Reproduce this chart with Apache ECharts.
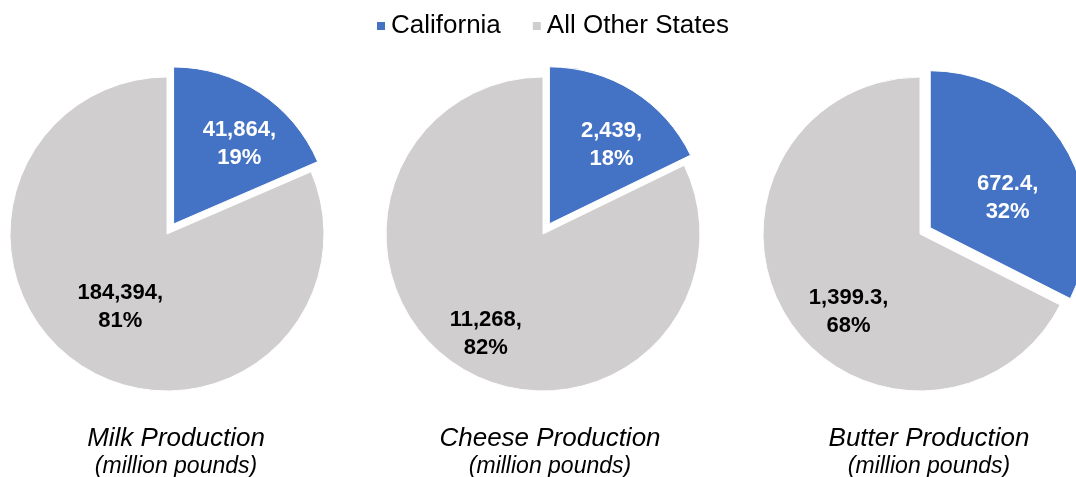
<!DOCTYPE html>
<html>
<head>
<meta charset="utf-8">
<script src="https://cdn.jsdelivr.net/npm/echarts@6/dist/echarts.min.js"></script>
<style>
html,body{margin:0;padding:0;background:#fff;}
#chart{width:1076px;height:477px;}
</style>
</head>
<body>
<div id="chart"></div>
<script>
// ---- data ----
const categories = ['California', 'All Other States'];
const charts = ['Milk Production', 'Cheese Production', 'Butter Production'];
const subtitle = '(million pounds)';
const milkValues = [41864, 184394];
const cheeseValues = [2439, 11268];
const butterValues = [672.4, 1399.3];
const decimals = [0, 0, 1];

// ---- layout / style ----
const colors = ['#4472C4', '#D0CECE'];
const centersX = [167, 543, 920];
const titleX = [171, 545, 924];
const centerY = 234;
const radius = 157;
// small label nudges relative to ECharts 'inside' placement [blue, gray]
const labelNudges = [
  [[21, -12], [-2, 5]],
  [[19, -10], [-14, 31]],
  [[8, 13], [-2, 35]]
];
const labelColors = ['#ffffff', '#000000'];

const allValues = [milkValues, cheeseValues, butterValues];

const chart = echarts.init(document.getElementById('chart'));

const series = allValues.map((vals, i) => ({
  type: 'pie',
  center: [centersX[i], centerY],
  radius: radius,
  startAngle: 90,
  clockwise: true,
  selectedMode: true,
  selectedOffset: 12,
  animation: false,
  percentPrecision: 0,
  emphasis: { disabled: true },
  labelLine: { show: false },
  labelLayout: (p) => ({
    dx: labelNudges[i][p.dataIndex][0],
    dy: labelNudges[i][p.dataIndex][1]
  }),
  itemStyle: { borderColor: '#ffffff', borderWidth: 1 },
  data: vals.map((v, j) => ({
    name: categories[j],
    value: v,
    selected: j === 0,
    itemStyle: { color: colors[j] },
    label: {
      show: true,
      position: 'inside',
      color: labelColors[j],
      fontFamily: 'Liberation Sans, Arial, sans-serif',
      fontWeight: 'bold',
      fontSize: 22,
      lineHeight: 28,
      formatter: (p) => p.value.toLocaleString('en-US', {
        minimumFractionDigits: decimals[i], maximumFractionDigits: decimals[i]
      }) + ',\n' + Math.round(p.percent) + '%'
    }
  }))
}));

const titles = charts.map((t, i) => ({
  text: t,
  subtext: subtitle,
  left: titleX[i],
  top: 421,
  textAlign: 'center',
  itemGap: 3,
  textStyle: {
    fontFamily: 'Liberation Sans, Arial, sans-serif',
    fontStyle: 'italic',
    fontWeight: 'normal',
    fontSize: 26,
    color: '#000'
  },
  subtextStyle: {
    fontFamily: 'Liberation Sans, Arial, sans-serif',
    fontStyle: 'italic',
    fontSize: 23,
    color: '#000'
  }
}));

chart.setOption({
  backgroundColor: '#ffffff',
  animation: false,
  title: titles,
  legend: {
    data: categories,
    top: 8,
    left: 370,
    icon: 'rect',
    itemWidth: 10,
    itemHeight: 10,
    itemGap: 30,
    selectedMode: false,
    textStyle: {
      fontFamily: 'Liberation Sans, Arial, sans-serif',
      fontSize: 26,
      color: '#000'
    }
  },
  series: series
});
</script>
</body>
</html>
